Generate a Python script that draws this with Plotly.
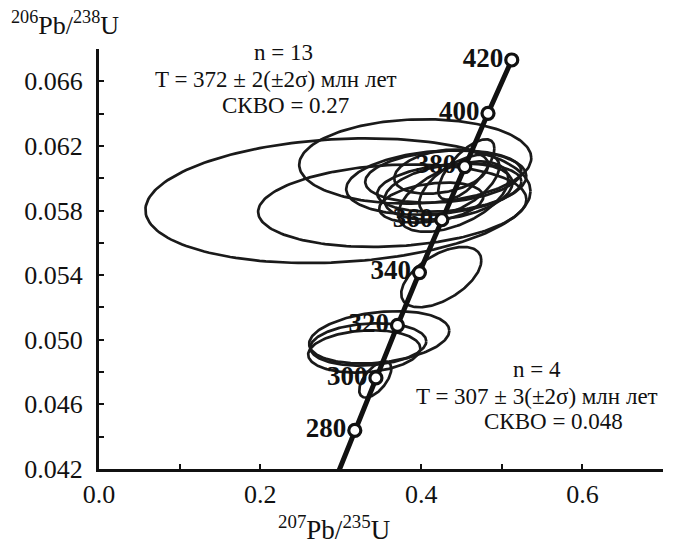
import numpy as np
import plotly.graph_objects as go

# Concordia reference points (age, Ma)
ages = [280, 300, 320, 340, 360, 380, 400, 420]
conc_x = [0.3175, 0.3437, 0.3705, 0.3977, 0.4255, 0.4539, 0.4828, 0.5123]
conc_y = [0.04439, 0.04764, 0.05089, 0.05416, 0.05743, 0.06072, 0.06402, 0.06732]
# start of the concordia curve below the x axis
conc_start_x = [0.2918]
conc_start_y = [0.04115]

# Error ellipses: centre, half-widths and correlation
ell_cx = [0.2966, 0.3640, 0.3925, 0.4186, 0.4273, 0.4335, 0.4248, 0.4398, 0.4472,
          0.4124, 0.4559, 0.4348, 0.4248,
          0.3478, 0.3292, 0.3342, 0.3429]
ell_cy = [0.05861, 0.05830, 0.06104, 0.05973, 0.06010, 0.05917, 0.06041, 0.05886, 0.05960,
          0.05849, 0.06054, 0.05942, 0.05388,
          0.05015, 0.04928, 0.04971, 0.04754]
ell_sx = [0.2390, 0.1665, 0.1440, 0.1118, 0.0969, 0.0795, 0.0584, 0.0683, 0.0497,
          0.0646, 0.0348, 0.0894, 0.0497,
          0.0870, 0.0696, 0.0720, 0.0199]
ell_sy = [0.00386, 0.00255, 0.00261, 0.00199, 0.00162, 0.00174, 0.00137, 0.00218, 0.00187,
          0.00124, 0.00187, 0.00149, 0.00187,
          0.00162, 0.00131, 0.00131, 0.00112]
ell_rho = [0.15, 0.15, 0.08, 0.2, 0.2, 0.3, 0.3, 0.5, 0.6,
           0.3, 0.7, 0.25, 0.55,
           0.25, 0.15, 0.15, 0.6]

FONT = "Liberation Serif, Times New Roman, serif"

# page is rendered with an 8px body margin
OFF = 8
W, H = 675 - OFF, 548 - OFF
ML, MT, MR, MB = 99 - OFF, 49 - OFF, 12, 79
PW = W - ML - MR
PH = H - MT - MB


def px2paper(px, py):
    return (px - OFF - ML) / PW, 1 - (py - OFF - MT) / PH


fig = go.Figure()

t = np.linspace(0, 2 * np.pi, 181)
for cx, cy, sx, sy, r in zip(ell_cx, ell_cy, ell_sx, ell_sy, ell_rho):
    ex = cx + sx * np.cos(t)
    ey = cy + sy * (r * np.cos(t) + np.sqrt(1 - r * r) * np.sin(t))
    fig.add_trace(go.Scatter(x=ex, y=ey, mode="lines",
                             line=dict(color="#1a1a1a", width=2.7),
                             hoverinfo="skip", showlegend=False))

fig.add_trace(go.Scatter(x=conc_start_x + conc_x, y=conc_start_y + conc_y, mode="lines",
                         line=dict(color="#111", width=5),
                         hoverinfo="skip", showlegend=False))

fig.add_trace(go.Scatter(x=conc_x, y=conc_y, mode="markers+text",
                         marker=dict(symbol="circle", size=12, color="white",
                                     line=dict(color="#111", width=3.2)),
                         text=[str(a) for a in ages], textposition="middle left",
                         textfont=dict(family=FONT, size=27, color="#111", weight="bold"),
                         cliponaxis=False, showlegend=False))

annots = [
    (283, 53, "n = 13"),
    (276, 80, "T = 372 ± 2(±2σ) млн лет"),
    (285, 106, "СКВО = 0.27"),
    (537, 369, "n = 4"),
    (537, 396, "T = 307 ± 3(±2σ) млн лет"),
    (553, 421, "СКВО = 0.048"),
]
for ax_, ay_, txt in annots:
    xp, yp = px2paper(ax_, ay_)
    fig.add_annotation(x=xp, y=yp, xref="paper", yref="paper",
                       text=txt, showarrow=False, xanchor="center", yanchor="middle",
                       font=dict(family=FONT, size=23, color="#111"))

xp, yp = px2paper(65, 23)
fig.add_annotation(x=xp, y=yp, xref="paper", yref="paper",
                   text="<sup>206</sup>Pb/<sup>238</sup>U", showarrow=False,
                   xanchor="center", yanchor="middle",
                   font=dict(family=FONT, size=26, color="#111"))
xp, yp = px2paper(334, 528)
fig.add_annotation(x=xp, y=yp, xref="paper", yref="paper",
                   text="<sup>207</sup>Pb/<sup>235</sup>U", showarrow=False,
                   xanchor="center", yanchor="middle",
                   font=dict(family=FONT, size=27, color="#111"))

fig.update_layout(
    width=W, height=H,
    margin=dict(l=ML, r=MR, t=MT, b=MB),
    paper_bgcolor="white", plot_bgcolor="white",
    font=dict(family=FONT, size=26, color="#111"),
    xaxis=dict(range=[0, 0.70], showgrid=False, zeroline=False,
               showline=True, linecolor="#111", linewidth=3,
               tickmode="linear", tick0=0, dtick=0.2, tickformat=".1f",
               ticks="inside", ticklen=5, tickwidth=2, tickcolor="#111",
               minor=dict(dtick=0.1, ticks="inside", ticklen=5, tickwidth=2, tickcolor="#111"),
               tickfont=dict(family=FONT, size=26)),
    yaxis=dict(range=[0.042, 0.068], showgrid=False, zeroline=False,
               showline=True, linecolor="#111", linewidth=3,
               tickmode="linear", tick0=0.042, dtick=0.004, tickformat=".3f",
               ticks="inside", ticklen=5, tickwidth=2, tickcolor="#111",
               minor=dict(dtick=0.002, ticks="inside", ticklen=5, tickwidth=2, tickcolor="#111"),
               tickfont=dict(family=FONT, size=26), ticklabelstandoff=8),
)

fig.write_html("out.html")
